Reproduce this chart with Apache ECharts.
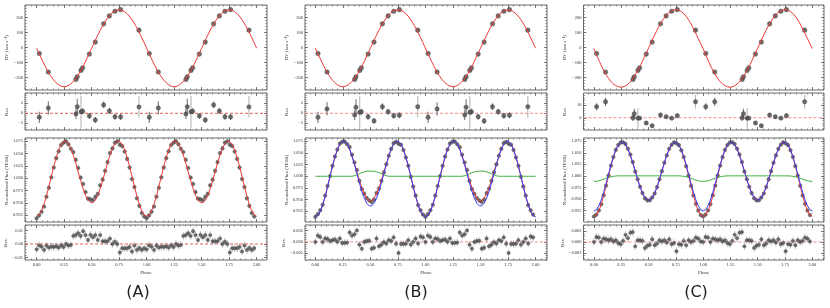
<!DOCTYPE html>
<html><head><meta charset="utf-8">
<script src="https://cdn.jsdelivr.net/npm/echarts@6/dist/echarts.min.js"></script>
<style>html,body{margin:0;padding:0;background:#fff}#c{width:830px;height:308px}</style>
</head><body><div id="c"></div>
<script>
// ---------------- DATA ----------------
const phaseTicks = [0, 0.25, 0.5, 0.75, 1.0, 1.25, 1.5, 1.75, 2.0];
const panelLabels = ['(A)', '(B)', '(C)'];

// RV points (one phase cycle, repeated at phase+1 as in the folded plot)
const rvPhase = [0.024, 0.106, 0.357, 0.369, 0.403, 0.418, 0.479, 0.533, 0.609, 0.661, 0.712, 0.763, 0.930];
const rvValue = [-40, -164, -213, -196, -153, -136, -44, 36, 158, 211, 242, 253, 116];
const rvErr   = [2.8, 3.3, 2.5, 4.0, 8.0, 1.5, 1.5, 1.5, 1.7, 1.5, 1.5, 1.5, 5.4];
const rvResA  = [-2.0, 2.7, -0.3, 3.3, 0.8, 1.0, -1.3, -3.3, 4.2, 1.2, -1.7, -1.8, 3.2];
const rvResB  = [-2.0, 2.2, -0.8, 3.0, 0.5, 0.8, -1.7, -3.8, 3.3, 0.8, -1.2, -1.0, 3.3];
const rvResC  = [8.9, 12.8, 0.0, 3.3, -0.3, -0.3, -4.2, -6.4, 2.2, 0.8, -0.3, 1.7, 12.8];

// RV model curves sampled every 0.025 in phase (0..1)
const rvModelPhase = [0,0.025,0.05,0.075,0.1,0.125,0.15,0.175,0.2,0.225,0.25,0.275,0.3,0.325,0.35,0.375,0.4,0.425,0.45,0.475,0.5,0.525,0.55,0.575,0.6,0.625,0.65,0.675,0.7,0.725,0.75,0.775,0.8,0.825,0.85,0.875,0.9,0.925,0.95,0.975,1.0];
const rvModelAB = [-5,-45,-84,-122,-156,-187,-213,-234,-249,-259,-262,-259,-249,-234,-213,-187,-156,-122,-84,-45,-5,35,74,112,146,177,203,224,239,249,252,249,239,224,203,177,146,112,74,35,-5];
const rvModelC  = [-8,-52,-94,-133,-168,-198,-223,-242,-255,-263,-265,-261,-251,-235,-213,-187,-156,-121,-83,-44,-4,36,75,113,147,178,205,226,241,250,253,250,241,225,203,175,142,106,67,30,-8];

// Flux (TESS) binned points, one cycle (45 bins), repeated at phase+1
const fluxPhase = [0,0.0222,0.0444,0.0667,0.0889,0.1111,0.1333,0.1556,0.1778,0.2,0.2222,0.2444,0.2667,0.2889,0.3111,0.3333,0.3556,0.3778,0.4,0.4222,0.4444,0.4667,0.4889,0.5111,0.5333,0.5556,0.5778,0.6,0.6222,0.6444,0.6667,0.6889,0.7111,0.7333,0.7556,0.7778,0.8,0.8222,0.8444,0.8667,0.8889,0.9111,0.9333,0.9556,0.9778];
const fluxA = [0.9190,0.9248,0.9321,0.9427,0.9627,0.9807,1.0020,1.0219,1.0408,1.0549,1.0675,1.0722,1.0749,1.0690,1.0599,1.0531,1.0374,1.0210,1.0013,0.9885,0.9720,0.9587,0.9574,0.9556,0.9623,0.9684,0.9856,0.9973,1.0150,1.0328,1.0511,1.0606,1.0719,1.0749,1.0681,1.0653,1.0544,1.0393,1.0219,0.9984,0.9822,0.9595,0.9441,0.9297,0.9226];
const fluxResA = [-0.004,-0.001,-0.002,-0.0044,-0.0012,-0.0027,-0.002,-0.0022,-0.0017,-0.0027,-0.001,-0.0022,0,-0.0012,-0.0007,0.006,0.0066,0.008,0.006,0.0095,0.0066,0.003,0.0068,0.005,0.0066,0.003,0.0066,0.002,0.002,0.002,0.004,0,0.0017,0,-0.0063,-0.0032,-0.0032,-0.0032,-0.0022,-0.0056,-0.0012,-0.0044,-0.003,-0.0044,-0.0032];
const fluxB = [0.9130,0.9188,0.9271,0.9389,0.9585,0.9792,1.0004,1.0223,1.0421,1.0572,1.0700,1.0739,1.0742,1.0687,1.0624,1.0459,1.0296,1.0135,0.9901,0.9724,0.9624,0.9533,0.9482,0.9447,0.9503,0.9639,0.9735,0.9901,1.0083,1.0255,1.0439,1.0586,1.0710,1.0738,1.0695,1.0676,1.0562,1.0402,1.0223,0.9988,0.9779,0.9585,0.9382,0.9273,0.9180];
const fluxResB = [0,0.0028,0.0022,0,0.0015,0.0013,0.0004,0.0008,0.0011,0.0001,0.0015,-0.0005,-0.0004,-0.0003,0.0042,0.0028,0.0034,0.0051,-0.0012,-0.003,0,0.0004,0.0005,-0.003,-0.0026,0.0015,-0.0019,-0.0012,-0.0001,-0.0007,0.0008,0.0004,0.002,-0.0008,-0.0049,-0.0009,-0.0009,-0.0008,0.0008,-0.0012,0,0.0015,-0.0007,0.0024,0.002];
const fluxC = [0.9120,0.9160,0.9250,0.9385,0.9578,0.9788,1.0006,1.0221,1.0406,1.0562,1.0667,1.0720,1.0729,1.0690,1.0587,1.0461,1.0298,1.0093,0.9926,0.9763,0.9626,0.9516,0.9469,0.9471,0.9532,0.9618,0.9757,0.9926,1.0102,1.0283,1.0443,1.0585,1.0673,1.0725,1.0707,1.0665,1.0554,1.0407,1.0210,1.0006,0.9783,0.9574,0.9393,0.9248,0.9152];
const fluxResC = [0,0.0009,0.0008,0,0.0006,0.0005,0.0003,0.0005,0.0001,0.0003,-0.0002,-0.0004,0.0002,0.0013,0.0007,0.0017,0.0018,-0.0008,0.0003,0.0003,0.0002,-0.0011,-0.0007,-0.0005,0.0005,-0.0006,-0.0003,0.0003,0.0001,0.0003,-0.0001,0.0005,-0.0004,-0.0002,-0.0017,-0.0004,-0.0005,0.0002,-0.0006,0.0003,0,0.0002,0.0008,0.0006,0.0001];
const fluxErrA = 0.005, fluxErrB = 0.005, fluxErrC = 0.005;
const fluxResErrA = 0.0028, fluxResErrB = 0.0016, fluxResErrC = 0.0007;

// Flux model curves, sampled on the bin phases plus phase 1.0
const modelPhase = fluxPhase.concat([1.0]);
const modelA_red = [0.9230,0.9258,0.9341,0.9471,0.9639,0.9834,1.0040,1.0241,1.0425,1.0576,1.0685,1.0744,1.0749,1.0702,1.0606,1.0471,1.0308,1.0130,0.9953,0.9790,0.9654,0.9557,0.9506,0.9506,0.9557,0.9654,0.9790,0.9953,1.0130,1.0308,1.0471,1.0606,1.0702,1.0749,1.0744,1.0685,1.0576,1.0425,1.0241,1.0040,0.9834,0.9639,0.9471,0.9341,0.9258,0.9230];
const modelB_blue = [0.9130,0.9160,0.9249,0.9389,0.9570,0.9779,1.0000,1.0215,1.0410,1.0571,1.0685,1.0744,1.0746,1.0690,1.0582,1.0431,1.0250,1.0054,0.9858,0.9678,0.9529,0.9423,0.9367,0.9367,0.9423,0.9529,0.9678,0.9858,1.0054,1.0250,1.0431,1.0582,1.0690,1.0746,1.0744,1.0685,1.0571,1.0410,1.0215,1.0000,0.9779,0.9570,0.9389,0.9249,0.9160,0.9130];
const modelB_green = [1,1,1,1,1,1,1,1,1,1,1,1,1,1,1,1,1.0012,1.0030,1.0055,1.0076,1.0095,1.0106,1.0110,1.0110,1.0106,1.0095,1.0076,1.0055,1.0030,1.0012,1,1,1,1,1,1,1,1,1,1,1,1,1,1,1,1];
const modelB_red = [0.9130,0.9160,0.9249,0.9389,0.9570,0.9779,1.0000,1.0215,1.0410,1.0571,1.0685,1.0744,1.0746,1.0690,1.0582,1.0431,1.0262,1.0084,0.9913,0.9754,0.9624,0.9529,0.9477,0.9477,0.9529,0.9624,0.9754,0.9913,1.0084,1.0262,1.0431,1.0582,1.0690,1.0746,1.0744,1.0685,1.0571,1.0410,1.0215,1.0000,0.9779,0.9570,0.9389,0.9249,0.9160,0.9130];
const modelC_blue = [0.9240,0.9268,0.9349,0.9477,0.9644,0.9835,1.0037,1.0236,1.0415,1.0563,1.0669,1.0724,1.0727,1.0677,1.0580,1.0444,1.0280,1.0101,0.9923,0.9760,0.9624,0.9527,0.9476,0.9476,0.9527,0.9624,0.9760,0.9923,1.0101,1.0280,1.0444,1.0580,1.0677,1.0727,1.0724,1.0669,1.0563,1.0415,1.0236,1.0037,0.9835,0.9644,0.9477,0.9349,0.9268,0.9240];
const modelC_green = [0.9880,0.9883,0.9893,0.9908,0.9928,0.9948,0.9966,0.9980,0.9990,0.9996,1,1,1,1,1,1,1,1,1,1,1,1,1,1,1,1,1,1,1,1,1,1,1,1,1,1,0.9996,0.9990,0.9980,0.9966,0.9948,0.9928,0.9908,0.9893,0.9883,0.9880];
const modelC_red = [0.9120,0.9151,0.9242,0.9385,0.9572,0.9783,1.0003,1.0216,1.0405,1.0559,1.0669,1.0724,1.0727,1.0677,1.0580,1.0444,1.0280,1.0101,0.9923,0.9760,0.9624,0.9527,0.9476,0.9476,0.9527,0.9624,0.9760,0.9923,1.0101,1.0280,1.0444,1.0580,1.0677,1.0727,1.0724,1.0669,1.0559,1.0405,1.0216,1.0003,0.9783,0.9572,0.9385,0.9242,0.9151,0.9120];

// tick label values
const rvTicks = [-200, -100, 0, 100, 200];
const rvResTicksAB = [-5, 0, 5];
const rvResTicksC = [0, 10];
const fluxTicks = [0.925, 0.95, 0.975, 1.0, 1.025, 1.05, 1.075];
const fresTicksA = [-0.01, 0, 0.01];
const fresTicksB = [-0.005, 0, 0.005];
const fresTicksC = [-0.002, 0, 0.002];

// ---------------- HELPERS ----------------
const RED = '#ee3b3b', BLUE = '#3b3bf5', GREEN = '#3fae3f';
const TICK = '#5a5a5a', FRAME = '#6a6a6a';
const FONT = 'Liberation Serif, DejaVu Serif, serif';
const grids = [], xAxis = [], yAxis = [], series = [];

function range(a, b, s) { const out = []; for (let v = a; v <= b + 1e-9; v += s) out.push(+v.toFixed(6)); return out; }
function fmt(d) { return v => (v < -1e-12 ? '\u2212' : '') + Math.abs(v).toFixed(d); }
function twoCycles(ph, vals, extra) {
  const out = [];
  for (let c = 0; c < 2; c++) ph.forEach((p, i) => out.push(extra ? [p + c, vals[i], extra[i]] : [p + c, vals[i]]));
  return out;
}
function curve2(ph, vals) {
  const out = [];
  ph.forEach((p, i) => out.push([p, vals[i]]));
  ph.forEach((p, i) => { if (i > 0) out.push([p + 1, vals[i]]); });
  return out;
}

function addGrid(rect, xr, yr, xMaj, xMin, yMaj, yMin, yFmt, yName, showX) {
  const gi = grids.length;
  grids.push({left: rect.left, top: rect.top, width: rect.width, height: rect.height, show: true,
    borderColor: FRAME, borderWidth: 1, backgroundColor: 'rgba(0,0,0,0)'});
  const base = (mn, mx) => ({type: 'value', gridIndex: gi, min: mn, max: mx,
    splitLine: {show: false}, axisLine: {show: false, onZero: false}, silent: true});
  const xi = xAxis.length, yi = yAxis.length;
  ['bottom', 'top'].forEach(pos => {
    const lab = pos === 'bottom' && showX;
    xAxis.push(Object.assign(base(xr[0], xr[1]), {position: pos,
      axisTick: {show: true, inside: true, length: 3, customValues: xMaj, lineStyle: {color: TICK, width: 0.8}},
      axisLabel: lab ? {show: true, customValues: xMaj, formatter: fmt(2), fontSize: 4.5, fontFamily: FONT, color: '#333', margin: 2} : {show: false},
      name: lab ? 'Phase' : '', nameLocation: 'middle', nameGap: 10,
      nameTextStyle: {fontSize: 5, fontFamily: FONT, color: '#333'}}));
    xAxis.push(Object.assign(base(xr[0], xr[1]), {position: pos,
      axisTick: {show: true, inside: true, length: 1.6, customValues: xMin, lineStyle: {color: TICK, width: 0.6}},
      axisLabel: {show: false}}));
  });
  ['left', 'right'].forEach(pos => {
    const lab = pos === 'left';
    yAxis.push(Object.assign(base(yr[0], yr[1]), {position: pos,
      axisTick: {show: true, inside: true, length: 3, customValues: yMaj, lineStyle: {color: TICK, width: 0.8}},
      axisLabel: lab ? {show: true, customValues: yMaj, formatter: yFmt, fontSize: 4.5, fontFamily: FONT, color: '#333', margin: 2} : {show: false},
      name: lab ? yName : '', nameLocation: 'middle', nameGap: 16,
      nameTextStyle: {fontSize: 5, fontFamily: FONT, color: '#333'}}));
    yAxis.push(Object.assign(base(yr[0], yr[1]), {position: pos,
      axisTick: {show: true, inside: true, length: 1.6, customValues: yMin, lineStyle: {color: TICK, width: 0.6}},
      axisLabel: {show: false}}));
  });
  return {xi, yi};
}

function errSeries(ax, data, colorFn, width) {
  return {type: 'custom', xAxisIndex: ax.xi, yAxisIndex: ax.yi, clip: true, silent: true, z: 2,
    encode: {x: 0, y: 1}, data,
    renderItem: (params, api) => {
      const x = api.value(0), y = api.value(1), e = api.value(2);
      const a = api.coord([x, y - e]), b = api.coord([x, y + e]);
      return {type: 'line', shape: {x1: a[0], y1: a[1], x2: b[0], y2: b[1]},
        style: {stroke: colorFn(e), lineWidth: width}};
    }};
}
function ptSeries(ax, data, size) {
  return {type: 'scatter', xAxisIndex: ax.xi, yAxisIndex: ax.yi, data, symbol: 'circle', symbolSize: size,
    silent: true, z: 3, itemStyle: {color: '#555555', borderColor: '#3a3a3a', borderWidth: 0.4, opacity: 0.85}};
}
function lineSeries(ax, data, color, z, dash) {
  return {type: 'line', xAxisIndex: ax.xi, yAxisIndex: ax.yi, data, showSymbol: false, symbol: 'none',
    silent: true, z: z, clip: true, lineStyle: {color, width: dash ? 0.9 : 1, type: dash || 'solid'}};
}

// ---------------- LAYOUT ----------------
const cols = [
  {left: 25, width: 242, xr: [-0.106, 2.094]},
  {left: 305, width: 242, xr: [-0.094, 2.104]},
  {left: 583.5, width: 240.5, xr: [-0.096, 2.107]}
];
const rows = {rv: {top: 5, height: 85}, rvres: {top: 93, height: 37}, flux: {top: 138, height: 84}, fres: {top: 225, height: 35}};
const xMinorVals = range(-0.1, 2.1, 0.05);

const panels = [
  {rvRes: rvResA, rvModel: rvModelAB, rvResR: [-8.35, 10.15], rvResT: rvResTicksAB, rvResMin: range(-8, 10, 1),
   flux: fluxA, fres: fluxResA, fluxR: [0.9114, 1.0817], fresR: [-0.0119, 0.0141], fresT: fresTicksA, fresMin: range(-0.012, 0.014, 0.002), fresD: 2,
   models: [[modelA_red, RED]], ferr: fluxErrA, frerr: fluxResErrA, zeroCol: '#e84a4a'},
  {rvRes: rvResB, rvModel: rvModelAB, rvResR: [-8.35, 10.15], rvResT: rvResTicksAB, rvResMin: range(-8, 10, 1),
   flux: fluxB, fres: fluxResB, fluxR: [0.902, 1.082], fresR: [-0.008, 0.0075], fresT: fresTicksB, fresMin: range(-0.008, 0.007, 0.001), fresD: 3,
   models: [[modelB_green, GREEN], [modelB_red, RED], [modelB_blue, BLUE]], ferr: fluxErrB, frerr: fluxResErrB, zeroCol: '#f07f7f'},
  {rvRes: rvResC, rvModel: rvModelC, rvResR: [-9.8, 19.8], rvResT: rvResTicksC, rvResMin: range(-8, 18, 2),
   flux: fluxC, fres: fluxResC, fluxR: [0.900, 1.082], fresR: [-0.0033, 0.0031], fresT: fresTicksC, fresMin: range(-0.003, 0.003, 0.0005), fresD: 3,
   models: [[modelC_green, GREEN], [modelC_red, RED], [modelC_blue, BLUE]], ferr: fluxErrC, frerr: fluxResErrC, zeroCol: '#f07f7f'}
];

panels.forEach((p, k) => {
  const c = cols[k];
  const R = r => ({left: c.left, width: c.width, top: r.top, height: r.height});
  // RV
  let ax = addGrid(R(rows.rv), c.xr, [-284, 284], phaseTicks, xMinorVals, rvTicks, range(-280, 280, 20), fmt(0), 'RV (km s\u207B\u00B9)', false);
  series.push(errSeries(ax, twoCycles(rvPhase, rvValue, rvErr), () => '#777', 1));
  series.push(ptSeries(ax, twoCycles(rvPhase, rvValue), 4.6));
  series.push(lineSeries(ax, curve2(rvModelPhase, p.rvModel), RED, 4));
  // RV residuals
  ax = addGrid(R(rows.rvres), c.xr, p.rvResR, phaseTicks, xMinorVals, p.rvResT, p.rvResMin, fmt(0), 'Res.', false);
  series.push(lineSeries(ax, [[c.xr[0], 0], [c.xr[1], 0]], p.zeroCol, 1, [3, 2]));
  series.push(errSeries(ax, twoCycles(rvPhase, p.rvRes, rvErr), e => e >= 5 ? '#b5b5b5' : '#777', 1.1));
  series.push(ptSeries(ax, twoCycles(rvPhase, p.rvRes), 4.4));
  // Flux
  ax = addGrid(R(rows.flux), c.xr, p.fluxR, phaseTicks, xMinorVals, fluxTicks, range(0.905, 1.08, 0.005), fmt(3), 'Normalized Flux (TESS)', false);
  series.push(errSeries(ax, twoCycles(fluxPhase, p.flux, p.flux.map(() => p.ferr)), () => '#b0b0b0', 0.8));
  series.push(ptSeries(ax, twoCycles(fluxPhase, p.flux), 3.6));
  p.models.forEach((m, j) => series.push(lineSeries(ax, curve2(modelPhase, m[0]), m[1], 4 + j)));
  // Flux residuals
  ax = addGrid(R(rows.fres), c.xr, p.fresR, phaseTicks, xMinorVals, p.fresT, p.fresMin, fmt(p.fresD), 'Res.', true);
  series.push(lineSeries(ax, [[c.xr[0], 0], [c.xr[1], 0]], p.zeroCol, 1, [3, 2]));
  series.push(errSeries(ax, twoCycles(fluxPhase, p.fres, p.fres.map(() => p.frerr)), () => '#b0b0b0', 0.8));
  series.push(ptSeries(ax, twoCycles(fluxPhase, p.fres), 3.4));
});

const labelX = [138, 416, 696];
const graphic = panelLabels.map((t, i) => ({type: 'text', x: labelX[i], y: 293, silent: true,
  style: {text: t, fontSize: 16, fontFamily: 'DejaVu Sans', fill: '#222', textAlign: 'center', textVerticalAlign: 'middle', align: 'center', verticalAlign: 'middle'}}));

const chart = echarts.init(document.getElementById('c'), null, {renderer: 'canvas'});
chart.setOption({animation: false, backgroundColor: '#fff', grid: grids, xAxis, yAxis, series, graphic});
</script></body></html>
